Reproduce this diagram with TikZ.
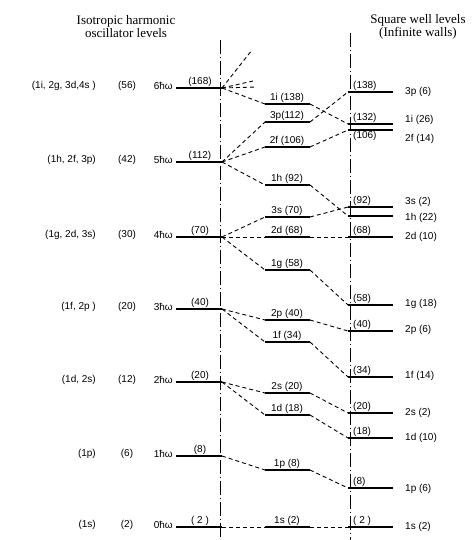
\documentclass[tikz,border=0pt]{standalone}
\usepackage{fontspec}
\setmainfont{Liberation Serif}
\newfontfamily\labfont{Liberation Sans}
\begin{document}
\begin{tikzpicture}[x=1pt,y=-1pt,
 lvl/.style={line width=1.1pt},
 conn/.style={dash pattern=on 4pt off 3pt, line width=0.9pt},
 axis/.style={line width=1pt, dash pattern=on 14pt off 3pt on 1pt off 3pt},
 lab/.style={font=\labfont\fontsize{10}{11}\selectfont, inner sep=1pt},
 title/.style={font=\fontsize{13}{13}\selectfont, align=center}]
\useasboundingbox (0,0) rectangle (471,540);
% titles
\node[title] (t1) at (126,27) {Isotropic harmonic\\oscillator levels};
\node[title] (t2) at (418,27) {Square well levels\\(Infinite walls)};
% axes
\coordinate (a1t) at (220,40); \coordinate (a1b) at (220,540);
\coordinate (a2t) at (350,33); \coordinate (a2b) at (350,540);
\draw[axis] (a1t) -- (a1b);
\draw[axis] (a2t) -- (a2b);
% oscillator levels
\foreach \n/\y/\cf/\dg/\E in {6/88/{(1i, 2g, 3d,4s )}/56/168, 5/162/{(1h, 2f, 3p)}/42/112,
  4/237/{(1g, 2d, 3s)}/30/70, 3/309/{(1f, 2p )}/20/40, 2/382/{(1d, 2s)}/12/20,
  1/456/{(1p)}/6/8, 0/527/{(1s)}/2/{ 2 }}{
 \coordinate (L\n-a) at (176,\y);
 \coordinate (L\n) at (222,\y);
 \draw[lvl] (L\n-a) -- (L\n);
 \node[lab, anchor=south] (L\n-e) at (200,\y) {(\E)};
 \node[lab, anchor=east] (L\n-w) at (174,\y-2) {\n ħω};
 \node[lab] (L\n-g) at (127,\y-2) {(\dg)};
 \node[lab, anchor=east] (L\n-c) at (97,\y-2) {\cf};
}
% intermediate levels
\foreach \n/\y/\t in {1i/104/{1i (138)}, 3p/122/{3p(112)}, 2f/147/{2f (106)}, 1h/185/{1h (92)},
  3s/217/{3s (70)}, 2d/237/{2d (68)}, 1g/270/{1g (58)}, 2p/320/{2p (40)}, 1f/342/{1f (34)},
  2s/393/{2s (20)}, 1d/415/{1d (18)}, 1p/470/{1p (8)}, 1s/527/{1s (2)}}{
 \coordinate (M\n-a) at (265,\y);
 \coordinate (M\n-b) at (310,\y);
 \draw[lvl] (M\n-a) -- (M\n-b);
 \node[lab, anchor=south] (M\n-t) at (287,\y) {\t};
}
% square well levels
\foreach \n/\y/\E/\t/\ty in {3p/92/138/{3p (6)}/92, 1i/124/132/{1i (26)}/120, 3s/207/92/{3s (2)}/202,
  2d/237/68/{2d (10)}/237, 1g/305/58/{1g (18)}/304, 2p/331/40/{2p (6)}/330,
  1f/377/34/{1f (14)}/376, 2s/413/20/{2s (2)}/413, 1d/438/18/{1d (10)}/438, 1p/488/8/{1p (6)}/489,
  1s/527/{ 2 }/{1s (2)}/527}{
 \coordinate (R\n) at (348,\y);
 \coordinate (R\n-b) at (393,\y);
 \draw[lvl] (R\n) -- (R\n-b);
 \node[lab, anchor=south west] (R\n-e) at (352,\y) {(\E)};
 \node[lab, anchor=west] (R\n-t) at (404,\ty) {\t};
}
\coordinate (R1h) at (348,216); \coordinate (R1h-b) at (393,216);
\draw[lvl] (R1h) -- (R1h-b);
\node[lab, anchor=west] (R1h-t) at (404,218) {1h (22)};
\coordinate (R2f) at (348,130); \coordinate (R2f-b) at (393,130);
\draw[lvl] (R2f) -- (R2f-b);
\node[lab, anchor=north west] (R2f-e) at (352,130) {(106)};
\node[lab, anchor=west] (R2f-t) at (404,139) {2f (14)};
% free ends from 6hw
\coordinate (f1) at (252,50); \coordinate (f2) at (253,81); \coordinate (f3) at (256,87);
\draw[conn] (L6) -- (f1);
\draw[conn] (L6) -- (f2);
\draw[conn] (L6) -- (f3);
% connectors
\draw[conn] (L6) -- (M1i-a);  \draw[conn] (M1i-b) -- (R1i);
\draw[conn] (L5) -- (M3p-a);  \draw[conn] (M3p-b) -- (R3p);
\draw[conn] (L5) -- (M2f-a);  \draw[conn] (M2f-b) -- (R2f);
\draw[conn] (L5) -- (M1h-a);  \draw[conn] (M1h-b) -- (R1h);
\draw[conn] (L4) -- (M3s-a);  \draw[conn] (M3s-b) -- (R3s);
\draw[conn] (L4) -- (M2d-a);  \draw[conn] (M2d-b) -- (R2d);
\draw[conn] (L4) -- (M1g-a);  \draw[conn] (M1g-b) -- (R1g);
\draw[conn] (L3) -- (M2p-a);  \draw[conn] (M2p-b) -- (R2p);
\draw[conn] (L3) -- (M1f-a);  \draw[conn] (M1f-b) -- (R1f);
\draw[conn] (L2) -- (M2s-a);  \draw[conn] (M2s-b) -- (R2s);
\draw[conn] (L2) -- (M1d-a);  \draw[conn] (M1d-b) -- (R1d);
\draw[conn] (L1) -- (M1p-a);  \draw[conn] (M1p-b) -- (R1p);
\draw[conn] (L0) -- (M1s-a);  \draw[conn] (M1s-b) -- (R1s);
\end{tikzpicture}
\end{document}
